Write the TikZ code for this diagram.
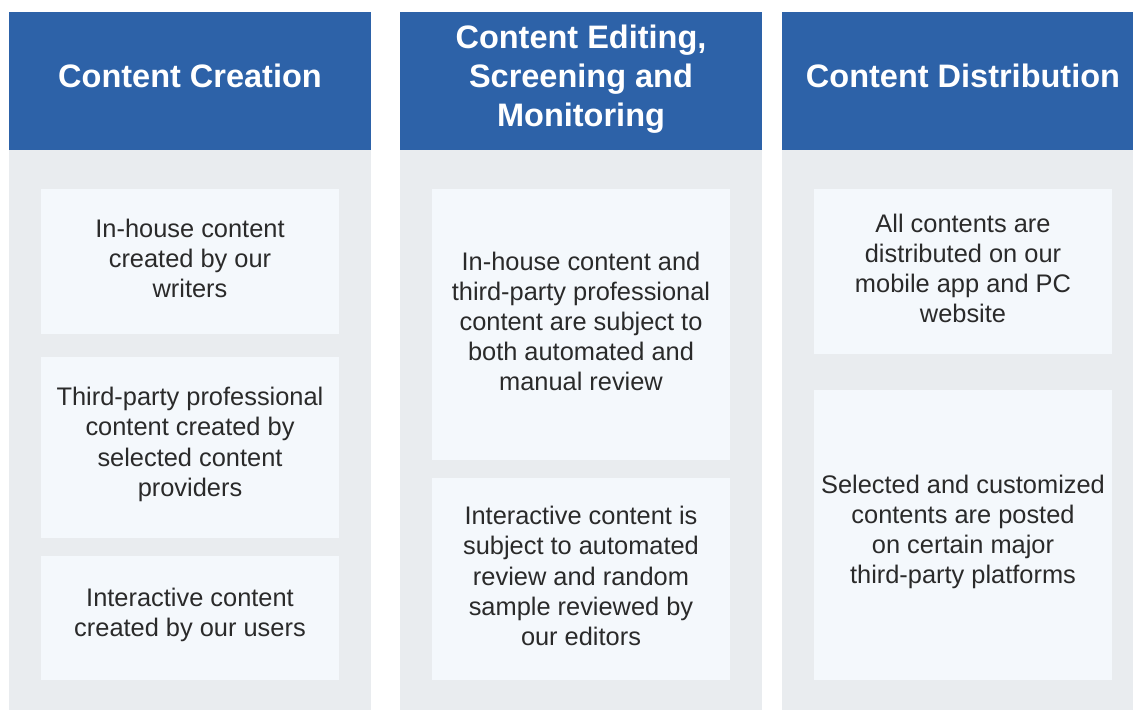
\documentclass[tikz,border=0pt]{standalone}
\usepackage{fontspec}
\setmainfont{Liberation Sans}
\definecolor{hdr}{HTML}{2D62A8}
\definecolor{colbody}{HTML}{E9ECEF}
\definecolor{card}{HTML}{F4F8FC}
\definecolor{txt}{HTML}{2A2A2A}
\begin{document}
\begin{tikzpicture}[x=1pt,y=-1pt,
  colhead/.style={fill=hdr, draw=none, minimum width=362pt, minimum height=138pt, inner sep=0pt},
  colbg/.style={fill=colbody, draw=none, minimum width=362pt, minimum height=560pt, inner sep=0pt},
  headtext/.style={text=white, font=\fontsize{32.5}{39}\selectfont\bfseries, align=center, inner sep=0pt},
  cardbox/.style={fill=card, draw=none, minimum width=298pt, inner sep=0pt},
  cardtext/.style={text=txt, font=\fontsize{25.4}{30.2}\selectfont, align=center, inner sep=0pt}]
\useasboundingbox (0,0) rectangle (1133,710);
\fill[white] (0,0) rectangle (1133,710);
% column backgrounds
\node[colbg] (bg1) at (190,430) {};
\node[colbg] (bg2) at (581,430) {};
\node[colbg, minimum width=351pt] (bg3) at (957.5,430) {};
% headers
\node[colhead] (h1) at (190,81) {};
\node[colhead] (h2) at (581,81) {};
\node[colhead, minimum width=351pt] (h3) at (957.5,81) {};
\node[headtext] (t1) at (190,76) {Content Creation};
\node[headtext] (t2) at (581,79) {Content Editing,\\Screening and\\Monitoring};
\node[headtext] (t3) at (963,76) {Content Distribution};
% cards column 1
\node[cardbox, minimum height=145pt] (c11) at (190,261.5) {};
\node[cardbox, minimum height=181pt] (c12) at (190,447.5) {};
\node[cardbox, minimum height=124pt] (c13) at (190,618) {};
% cards column 2
\node[cardbox, minimum height=271pt] (c21) at (581,324.5) {};
\node[cardbox, minimum height=202pt] (c22) at (581,579) {};
% cards column 3
\node[cardbox, minimum height=165pt] (c31) at (963,271.5) {};
\node[cardbox, minimum height=290pt] (c32) at (963,535) {};
% texts
\node[cardtext] at ([yshift=3pt]c11.center) {In-house content\\created by our\\writers};
\node[cardtext] at ([yshift=3pt]c12.center) {Third-party professional\\content created by\\selected content\\providers};
\node[cardtext] at ([yshift=3pt]c13.center) {Interactive content\\created by our users};
\node[cardtext] at ([yshift=3pt]c21.center) {In-house content and\\third-party professional\\content are subject to\\both automated and\\manual review};
\node[cardtext] at ([yshift=3pt]c22.center) {Interactive content is\\subject to automated\\review and random\\sample reviewed by\\our editors};
\node[cardtext] at ([yshift=3pt]c31.center) {All contents are\\distributed on our\\mobile app and PC\\website};
\node[cardtext] at ([yshift=3pt]c32.center) {Selected and customized\\contents are posted\\on certain major\\third-party platforms};
\end{tikzpicture}
\end{document}
